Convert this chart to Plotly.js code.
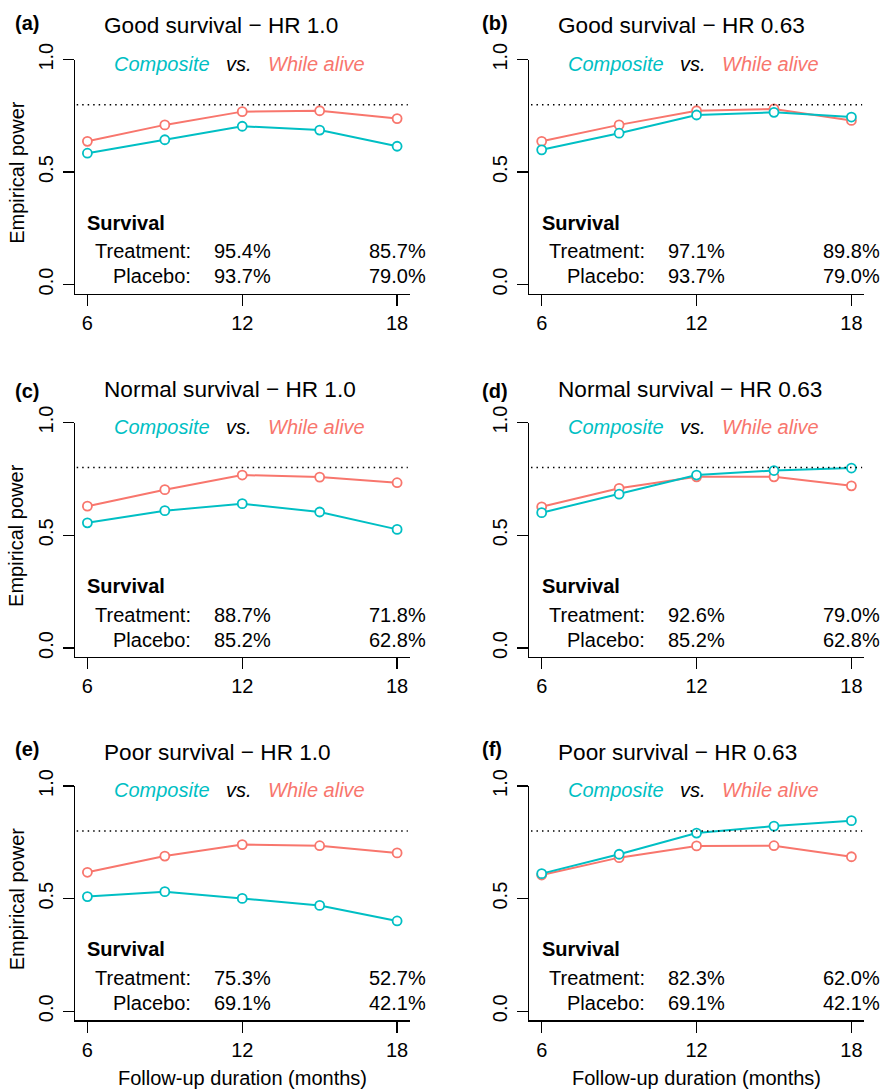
<!DOCTYPE html>
<html>
<head>
<meta charset="utf-8">
<script src="https://cdn.plot.ly/plotly-3.0.1.min.js"></script>
<style>html,body{margin:0;padding:0;background:#fff;}#chart{width:881px;height:1090px;}</style>
</head>
<body>
<div id="chart"></div>
<script>
// ---------------- data ----------------
const months = [6, 9, 12, 15, 18];
const xTickVals = [6, 12, 18];
const xTickText = ["6", "12", "18"];
const yTickVals = [0, 0.5, 1];
const yTickText = ["0.0", "0.5", "1.0"];
const targetPower = 0.8;

const panelLabels = ["(a)", "(b)", "(c)", "(d)", "(e)", "(f)"];
const panelTitles = [
  "Good survival \u2212 HR 1.0", "Good survival \u2212 HR 0.63",
  "Normal survival \u2212 HR 1.0", "Normal survival \u2212 HR 0.63",
  "Poor survival \u2212 HR 1.0", "Poor survival \u2212 HR 0.63"
];
const compositePower = [
  [0.584, 0.644, 0.704, 0.687, 0.615],
  [0.599, 0.673, 0.754, 0.766, 0.745],
  [0.555, 0.609, 0.640, 0.603, 0.526],
  [0.600, 0.682, 0.767, 0.787, 0.798],
  [0.509, 0.531, 0.501, 0.470, 0.401],
  [0.611, 0.697, 0.791, 0.822, 0.846]
];
const whileAlivePower = [
  [0.637, 0.710, 0.769, 0.773, 0.738],
  [0.637, 0.710, 0.773, 0.781, 0.730],
  [0.629, 0.702, 0.767, 0.758, 0.733],
  [0.626, 0.708, 0.759, 0.759, 0.719],
  [0.617, 0.689, 0.740, 0.735, 0.703],
  [0.605, 0.682, 0.734, 0.735, 0.686]
];
const treatmentSurv = [
  ["95.4%", "85.7%"], ["97.1%", "89.8%"],
  ["88.7%", "71.8%"], ["92.6%", "79.0%"],
  ["75.3%", "52.7%"], ["82.3%", "62.0%"]
];
const placeboSurv = [
  ["93.7%", "79.0%"], ["93.7%", "79.0%"],
  ["85.2%", "62.8%"], ["85.2%", "62.8%"],
  ["69.1%", "42.1%"], ["69.1%", "42.1%"]
];
const survivalHeader = "Survival";
const treatmentLabel = "Treatment:";
const placeboLabel = "Placebo:";
const legendWords = ["Composite", "vs.", "While alive"];
const yTitle = "Empirical power";
const xTitle = "Follow-up duration (months)";

// ---------------- style / layout ----------------
const W = 881, H = 1090;
const FONT = "Liberation Sans, Arial, Helvetica, sans-serif";
const CYAN = "#00BFC4", SALMON = "#F8766D";
const colPx = [[75, 409.5], [529.3, 863.8]];
const rowPx = [[59.7, 293.5], [422.5, 657], [786, 1020.3]];
const titleMid = [26, 389.3, 752.3];
const labelMid = [23.3, 391, 749.3];
const labelLeft = [15, 482.3];

const traces = [];
const annotations = [];
const shapes = [];
const layout = {
  width: W, height: H,
  margin: {l: 0, r: 0, t: 0, b: 0},
  paper_bgcolor: "#fff", plot_bgcolor: "#fff",
  showlegend: false,
  font: {family: FONT, size: 20, color: "#000"},
  annotations: annotations, shapes: shapes
};

for (let p = 0; p < 6; p++) {
  const row = Math.floor(p / 2), col = p % 2;
  const sfx = p === 0 ? "" : String(p + 1);
  const xa = "x" + sfx, ya = "y" + sfx;
  layout["xaxis" + sfx] = {
    domain: [colPx[col][0] / W, colPx[col][1] / W],
    range: [5.52, 18.48], anchor: ya,
    showgrid: false, zeroline: false, showline: true, linecolor: "#000", linewidth: 1.3,
    ticks: "outside", ticklen: 11, tickwidth: 1.3, tickcolor: "#000",
    tickmode: "array", tickvals: xTickVals, ticktext: xTickText,
    tickfont: {family: FONT, size: 20, color: "#000"}, fixedrange: true
  };
  layout["yaxis" + sfx] = {
    domain: [1 - rowPx[row][1] / H, 1 - rowPx[row][0] / H],
    range: [-0.04, 1.0], anchor: xa,
    showgrid: false, zeroline: false, showline: true, linecolor: "#000", linewidth: 1.3,
    ticks: "outside", ticklen: 11, tickwidth: 1.3, tickcolor: "#000",
    tickmode: "array", tickvals: yTickVals, ticktext: yTickText, tickangle: -90,
    ticklabelstandoff: 2,
    tickfont: {family: FONT, size: 20, color: "#000"}, fixedrange: true
  };

  shapes.push({type: "line", xref: xa + " domain", yref: ya, x0: 0.005, x1: 0.995,
    y0: targetPower, y1: targetPower, line: {color: "#000", width: 1.5, dash: "1.5px,4px"}});

  traces.push({x: months, y: whileAlivePower[p], xaxis: xa, yaxis: ya, type: "scatter",
    mode: "lines+markers", line: {color: SALMON, width: 2},
    marker: {symbol: "circle", size: 9, color: "#fff", line: {color: SALMON, width: 1.8}},
    cliponaxis: false, hoverinfo: "skip"});
  traces.push({x: months, y: compositePower[p], xaxis: xa, yaxis: ya, type: "scatter",
    mode: "lines+markers", line: {color: CYAN, width: 2},
    marker: {symbol: "circle", size: 9, color: "#fff", line: {color: CYAN, width: 1.8}},
    cliponaxis: false, hoverinfo: "skip"});

  const base = {showarrow: false, borderpad: 0, borderwidth: 0};
  // panel label & title (paper coords)
  annotations.push(Object.assign({}, base, {xref: "paper", yref: "paper",
    x: labelLeft[col] / W, y: 1 - labelMid[row] / H, xanchor: "left", yanchor: "middle",
    text: "<b>" + panelLabels[p] + "</b>", font: {family: FONT, size: 20, color: "#000"}}));
  annotations.push(Object.assign({}, base, {xref: "paper", yref: "paper",
    x: (colPx[col][0] + 29) / W, y: 1 - titleMid[row] / H, xanchor: "left", yanchor: "middle",
    text: panelTitles[p], font: {family: FONT, size: 22.6, color: "#000"}}));
  // legend words
  const legColors = [CYAN, "#000", SALMON];
  const legX = [8.88, 11.88, 14.88];
  for (let k = 0; k < 3; k++) {
    annotations.push(Object.assign({}, base, {xref: xa, yref: ya, x: legX[k], y: 0.982,
      xanchor: "center", yanchor: "middle", text: "<i>" + legendWords[k] + "</i>",
      font: {family: FONT, size: 20, color: legColors[k]}}));
  }
  // survival table
  annotations.push(Object.assign({}, base, {xref: xa, yref: ya, x: 6, y: 0.275,
    xanchor: "left", yanchor: "middle", text: "<b>" + survivalHeader + "</b>"}));
  annotations.push(Object.assign({}, base, {xref: xa, yref: ya, x: 10, y: 0.148,
    xanchor: "right", yanchor: "middle", text: treatmentLabel}));
  annotations.push(Object.assign({}, base, {xref: xa, yref: ya, x: 10, y: 0.036,
    xanchor: "right", yanchor: "middle", text: placeboLabel}));
  annotations.push(Object.assign({}, base, {xref: xa, yref: ya, x: 12, y: 0.148,
    xanchor: "center", yanchor: "middle", text: treatmentSurv[p][0]}));
  annotations.push(Object.assign({}, base, {xref: xa, yref: ya, x: 18, y: 0.148,
    xanchor: "center", yanchor: "middle", text: treatmentSurv[p][1]}));
  annotations.push(Object.assign({}, base, {xref: xa, yref: ya, x: 12, y: 0.036,
    xanchor: "center", yanchor: "middle", text: placeboSurv[p][0]}));
  annotations.push(Object.assign({}, base, {xref: xa, yref: ya, x: 18, y: 0.036,
    xanchor: "center", yanchor: "middle", text: placeboSurv[p][1]}));

  if (col === 0) {
    const rowMidPx = rowPx[row][0] + (rowPx[row][1] - rowPx[row][0]) * (1.0 - 0.5) / 1.04;
    annotations.push(Object.assign({}, base, {xref: "paper", yref: "paper",
      x: 16.7 / W, y: 1 - rowMidPx / H, xanchor: "center", yanchor: "middle",
      textangle: -90, text: yTitle, font: {family: FONT, size: 20, color: "#000"}}));
  }
  if (row === 2) {
    annotations.push(Object.assign({}, base, {xref: "paper", yref: "paper",
      x: (colPx[col][0] + colPx[col][1]) / 2 / W, y: 1 - 1077.7 / H,
      xanchor: "center", yanchor: "middle", text: xTitle,
      font: {family: FONT, size: 20, color: "#000"}}));
  }
}

Plotly.newPlot("chart", traces, layout, {displayModeBar: false, staticPlot: true});
</script>
</body>
</html>
